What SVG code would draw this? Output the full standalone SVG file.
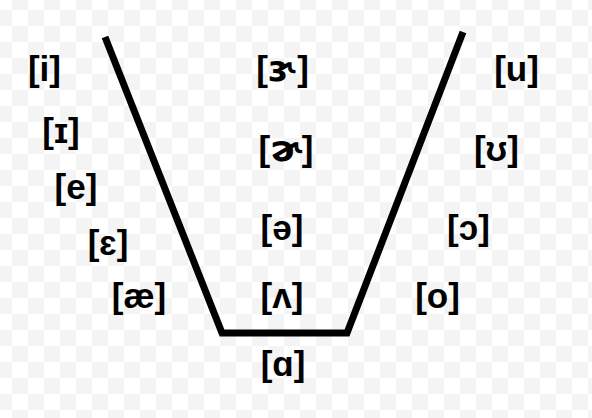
<svg xmlns="http://www.w3.org/2000/svg" width="592" height="418" viewBox="0 0 592 418">
<defs>
<pattern id="checker" x="12" y="26" width="32" height="32" patternUnits="userSpaceOnUse">
<rect width="32" height="32" fill="#ffffff"/>
<rect width="16" height="16" fill="#f4f4f4"/>
<rect x="16" y="16" width="16" height="16" fill="#f4f4f4"/>
</pattern>
</defs>
<style>
.lbl { font-family: "Liberation Sans", "DejaVu Sans", sans-serif; font-weight: bold; font-size: 35px; fill: #000000; text-anchor: middle; }
.ipa { font-family: "DejaVu Sans", sans-serif; font-size: 36px; }
.chart { fill: none; stroke: #000000; stroke-width: 7; stroke-linejoin: miter; }
</style>
<rect width="592" height="418" fill="url(#checker)"/>
<g id="connectors">
<polyline class="chart" points="105,37 222,333 347,333 463,32"/>
</g>
<g id="i"><text class="lbl" x="44.5" y="81">[i]</text></g>
<g id="small-i"><text class="lbl" x="61" y="143">[ɪ]</text></g>
<g id="e"><text class="lbl" x="76" y="199">[e]</text></g>
<g id="epsilon"><text class="lbl" x="108" y="255">[ɛ]</text></g>
<g id="ae"><text class="lbl" x="139" y="308">[æ]</text></g>
<g id="r-schwa-stressed"><text class="lbl" x="282.5" y="81">[<tspan class="ipa">ɝ</tspan>]</text></g>
<g id="r-schwa"><text class="lbl" x="286" y="161">[<tspan class="ipa">ɚ</tspan>]</text></g>
<g id="schwa"><text class="lbl" x="282" y="240">[ə]</text></g>
<g id="wedge"><text class="lbl" x="282" y="308">[ʌ]</text></g>
<g id="alpha"><text class="lbl" x="283" y="376">[ɑ]</text></g>
<g id="u"><text class="lbl" x="516.5" y="81">[u]</text></g>
<g id="upsilon"><text class="lbl" x="496.5" y="161">[ʊ]</text></g>
<g id="open-o"><text class="lbl" x="468.5" y="240">[ɔ]</text></g>
<g id="o"><text class="lbl" x="437.5" y="308">[o]</text></g>
</svg>
